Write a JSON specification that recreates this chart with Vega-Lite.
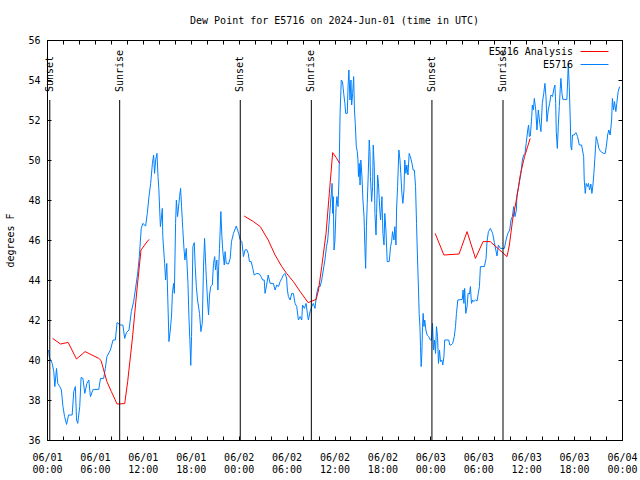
{
  "$schema": "https://vega.github.io/schema/vega-lite/v6.json",
  "width": 575,
  "height": 400,
  "autosize": {"type": "none"},
  "padding": {"left": 47, "top": 40, "right": 18, "bottom": 40},
  "background": "white",
  "title": {"text": "Dew Point for E5716 on 2024-Jun-01 (time in UTC)", "font": "DejaVu Sans Mono", "fontSize": 10, "fontWeight": "normal", "baseline": "alphabetic", "frame": "group", "offset": 1, "color": "black"},
  "config": {
    "font": "DejaVu Sans Mono",
    "view": {"stroke": "black"},
    "axis": {"domainColor": "black", "tickColor": "black", "labelColor": "black", "labelFont": "DejaVu Sans Mono", "labelFontSize": 10, "grid": false, "titleFont": "DejaVu Sans Mono", "titleFontSize": 10, "titleFontWeight": "normal", "titleColor": "black"},
    "legend": {"labelFont": "DejaVu Sans Mono", "labelFontSize": 10, "labelColor": "black"}
  },
  "datasets": {
    "obs": [
      {"h":0.2,"v":40.5},{"h":0.3,"v":40.13},{"h":0.65,"v":39.83},{"h":0.85,"v":39.42},{"h":0.98,"v":38.67},{"h":1.19,"v":39.58},{"h":1.35,"v":38.83},{"h":1.6,"v":38.67},{"h":1.8,"v":38.5},{"h":2.0,"v":37.67},{"h":2.2,"v":37.17},{"h":2.45,"v":36.78},{"h":2.7,"v":37.25},{"h":3.15,"v":37.25},{"h":3.35,"v":38.42},{"h":3.55,"v":38.67},{"h":3.7,"v":37.0},{"h":3.85,"v":36.83},{"h":4.1,"v":37.67},{"h":4.27,"v":39.13},{"h":4.5,"v":39.08},{"h":4.73,"v":38.33},{"h":5.0,"v":38.83},{"h":5.23,"v":39.0},{"h":5.44,"v":38.17},{"h":5.77,"v":38.53},{"h":6.48,"v":38.53},{"h":6.7,"v":39.08},{"h":7.1,"v":39.08},{"h":7.3,"v":39.58},{"h":7.5,"v":40.17},{"h":7.94,"v":40.5},{"h":8.27,"v":41.0},{"h":8.56,"v":41.0},{"h":8.77,"v":41.87},{"h":9.2,"v":41.75},{"h":9.5,"v":41.75},{"h":9.73,"v":41.08},{"h":9.94,"v":41.37},{"h":10.27,"v":41.5},{"h":10.56,"v":42.42},{"h":10.85,"v":42.92},{"h":11.06,"v":43.5},{"h":11.35,"v":44.33},{"h":11.56,"v":45.17},{"h":11.7,"v":46.0},{"h":11.8,"v":46.58},{"h":12.0,"v":46.83},{"h":12.35,"v":46.7},{"h":12.56,"v":47.33},{"h":12.77,"v":48.17},{"h":12.98,"v":48.83},{"h":13.2,"v":49.83},{"h":13.35,"v":50.25},{"h":13.47,"v":49.33},{"h":13.6,"v":50.0},{"h":13.77,"v":50.33},{"h":13.9,"v":49.17},{"h":14.0,"v":48.58},{"h":14.2,"v":46.67},{"h":14.3,"v":47.0},{"h":14.44,"v":47.58},{"h":14.5,"v":46.17},{"h":14.73,"v":44.83},{"h":14.85,"v":44.0},{"h":15.0,"v":44.83},{"h":15.2,"v":42.0},{"h":15.27,"v":40.92},{"h":15.44,"v":41.5},{"h":15.6,"v":42.25},{"h":15.7,"v":43.33},{"h":15.85,"v":43.83},{"h":15.95,"v":43.33},{"h":16.1,"v":46.83},{"h":16.2,"v":48.0},{"h":16.35,"v":47.17},{"h":16.5,"v":47.75},{"h":16.6,"v":48.17},{"h":16.73,"v":48.58},{"h":16.85,"v":47.67},{"h":17.0,"v":46.58},{"h":17.15,"v":45.58},{"h":17.27,"v":45.0},{"h":17.44,"v":45.58},{"h":17.65,"v":43.83},{"h":17.77,"v":42.17},{"h":17.94,"v":40.5},{"h":18.0,"v":39.73},{"h":18.1,"v":41.17},{"h":18.2,"v":44.0},{"h":18.27,"v":45.67},{"h":18.44,"v":45.87},{"h":18.56,"v":44.67},{"h":18.7,"v":43.67},{"h":18.85,"v":43.0},{"h":19.1,"v":42.33},{"h":19.27,"v":41.42},{"h":19.44,"v":41.83},{"h":19.6,"v":44.67},{"h":19.73,"v":46.08},{"h":19.94,"v":44.17},{"h":20.1,"v":43.0},{"h":20.23,"v":42.25},{"h":20.35,"v":43.25},{"h":20.5,"v":43.67},{"h":20.7,"v":43.75},{"h":20.85,"v":44.83},{"h":21.0,"v":45.17},{"h":21.1,"v":44.5},{"h":21.27,"v":45.0},{"h":21.4,"v":43.5},{"h":21.5,"v":44.67},{"h":21.6,"v":45.58},{"h":21.77,"v":47.42},{"h":21.9,"v":46.17},{"h":22.02,"v":45.42},{"h":22.2,"v":44.75},{"h":22.3,"v":45.42},{"h":22.44,"v":44.83},{"h":22.73,"v":44.8},{"h":22.94,"v":45.08},{"h":23.1,"v":45.92},{"h":23.35,"v":46.33},{"h":23.7,"v":46.7},{"h":24.0,"v":46.33},{"h":24.2,"v":46.0},{"h":24.4,"v":45.92},{"h":24.6,"v":45.17},{"h":24.8,"v":45.5},{"h":25.0,"v":45.53},{"h":25.2,"v":45.33},{"h":25.35,"v":44.92},{"h":25.56,"v":44.92},{"h":25.77,"v":44.58},{"h":25.94,"v":44.25},{"h":26.27,"v":44.33},{"h":26.6,"v":44.3},{"h":26.8,"v":44.17},{"h":27.0,"v":44.0},{"h":27.2,"v":44.0},{"h":27.3,"v":43.33},{"h":27.5,"v":43.75},{"h":27.7,"v":44.25},{"h":27.94,"v":43.83},{"h":28.35,"v":43.83},{"h":28.56,"v":43.5},{"h":28.77,"v":43.75},{"h":28.98,"v":43.67},{"h":29.2,"v":43.92},{"h":29.4,"v":44.08},{"h":29.6,"v":44.25},{"h":29.8,"v":44.33},{"h":30.0,"v":44.1},{"h":30.1,"v":43.5},{"h":30.23,"v":43.17},{"h":30.44,"v":43.0},{"h":30.65,"v":43.33},{"h":30.85,"v":43.33},{"h":31.06,"v":42.83},{"h":31.27,"v":42.67},{"h":31.48,"v":42.0},{"h":31.7,"v":42.17},{"h":31.9,"v":42.0},{"h":32.0,"v":42.75},{"h":32.23,"v":42.58},{"h":32.44,"v":42.83},{"h":32.6,"v":42.33},{"h":32.73,"v":42.0},{"h":32.94,"v":42.42},{"h":33.15,"v":42.67},{"h":33.35,"v":42.83},{"h":33.56,"v":42.58},{"h":33.77,"v":43.33},{"h":33.98,"v":43.67},{"h":34.2,"v":43.67},{"h":34.4,"v":44.0},{"h":34.6,"v":44.5},{"h":34.8,"v":45.0},{"h":35.0,"v":45.67},{"h":35.15,"v":46.0},{"h":35.35,"v":47.0},{"h":35.5,"v":47.83},{"h":35.7,"v":48.83},{"h":35.77,"v":47.33},{"h":35.85,"v":48.17},{"h":35.94,"v":45.5},{"h":36.05,"v":45.92},{"h":36.2,"v":47.67},{"h":36.3,"v":48.17},{"h":36.44,"v":47.67},{"h":36.56,"v":49.0},{"h":36.7,"v":52.33},{"h":36.85,"v":54.0},{"h":37.0,"v":53.92},{"h":37.15,"v":53.33},{"h":37.3,"v":52.83},{"h":37.4,"v":52.33},{"h":37.6,"v":52.33},{"h":37.7,"v":53.67},{"h":37.8,"v":54.5},{"h":37.94,"v":53.0},{"h":38.06,"v":54.0},{"h":38.15,"v":52.75},{"h":38.27,"v":53.33},{"h":38.4,"v":54.17},{"h":38.5,"v":52.5},{"h":38.6,"v":51.83},{"h":38.73,"v":50.67},{"h":38.85,"v":50.42},{"h":38.94,"v":50.0},{"h":39.0,"v":49.17},{"h":39.1,"v":49.83},{"h":39.2,"v":48.75},{"h":39.3,"v":50.0},{"h":39.44,"v":49.17},{"h":39.56,"v":48.0},{"h":39.7,"v":47.17},{"h":39.8,"v":45.67},{"h":39.9,"v":44.58},{"h":40.0,"v":46.67},{"h":40.1,"v":47.83},{"h":40.23,"v":49.33},{"h":40.35,"v":51.0},{"h":40.44,"v":50.42},{"h":40.5,"v":49.17},{"h":40.65,"v":47.92},{"h":40.77,"v":48.67},{"h":40.85,"v":50.75},{"h":40.98,"v":49.67},{"h":41.06,"v":47.33},{"h":41.2,"v":46.25},{"h":41.27,"v":47.33},{"h":41.4,"v":49.25},{"h":41.5,"v":48.83},{"h":41.65,"v":47.67},{"h":41.77,"v":47.0},{"h":41.94,"v":48.17},{"h":42.06,"v":46.33},{"h":42.2,"v":45.75},{"h":42.3,"v":47.33},{"h":42.44,"v":46.5},{"h":42.6,"v":44.92},{"h":42.85,"v":44.92},{"h":43.02,"v":45.67},{"h":43.15,"v":45.92},{"h":43.27,"v":46.42},{"h":43.44,"v":46.0},{"h":43.56,"v":46.67},{"h":43.7,"v":45.75},{"h":43.77,"v":47.5},{"h":43.9,"v":48.67},{"h":44.06,"v":50.5},{"h":44.2,"v":50.0},{"h":44.3,"v":49.33},{"h":44.44,"v":48.33},{"h":44.56,"v":47.83},{"h":44.7,"v":48.5},{"h":44.8,"v":50.0},{"h":44.94,"v":49.33},{"h":45.06,"v":49.75},{"h":45.2,"v":49.25},{"h":45.35,"v":50.33},{"h":45.5,"v":50.17},{"h":45.7,"v":49.83},{"h":45.85,"v":49.5},{"h":46.0,"v":49.5},{"h":46.15,"v":48.67},{"h":46.27,"v":46.83},{"h":46.4,"v":45.0},{"h":46.52,"v":43.5},{"h":46.6,"v":42.33},{"h":46.7,"v":41.67},{"h":46.77,"v":40.67},{"h":46.85,"v":39.67},{"h":46.94,"v":40.33},{"h":47.02,"v":41.67},{"h":47.1,"v":42.33},{"h":47.2,"v":41.67},{"h":47.3,"v":42.0},{"h":47.44,"v":41.5},{"h":47.6,"v":41.25},{"h":47.8,"v":41.17},{"h":48.0,"v":41.0},{"h":48.15,"v":41.0},{"h":48.27,"v":41.83},{"h":48.4,"v":40.5},{"h":48.52,"v":41.0},{"h":48.65,"v":40.33},{"h":48.77,"v":41.67},{"h":48.9,"v":41.17},{"h":49.02,"v":39.83},{"h":49.15,"v":40.5},{"h":49.27,"v":39.92},{"h":49.44,"v":40.0},{"h":49.56,"v":39.75},{"h":49.7,"v":40.17},{"h":49.8,"v":41.0},{"h":50.3,"v":41.0},{"h":50.44,"v":40.75},{"h":50.6,"v":40.75},{"h":50.8,"v":40.83},{"h":51.0,"v":41.17},{"h":51.15,"v":41.67},{"h":51.27,"v":42.33},{"h":51.44,"v":43.0},{"h":52.0,"v":43.03},{"h":52.1,"v":43.5},{"h":52.2,"v":42.83},{"h":52.3,"v":43.58},{"h":52.44,"v":42.33},{"h":52.6,"v":42.67},{"h":52.73,"v":43.33},{"h":52.9,"v":43.3},{"h":53.02,"v":43.67},{"h":53.15,"v":42.83},{"h":53.3,"v":43.0},{"h":53.44,"v":42.92},{"h":53.65,"v":43.0},{"h":53.85,"v":42.95},{"h":54.0,"v":43.33},{"h":54.15,"v":43.67},{"h":54.27,"v":44.67},{"h":54.77,"v":44.67},{"h":54.98,"v":45.08},{"h":55.1,"v":45.92},{"h":55.27,"v":46.42},{"h":55.52,"v":46.58},{"h":55.8,"v":46.33},{"h":56.02,"v":45.87},{"h":56.2,"v":45.5},{"h":56.35,"v":45.2},{"h":56.52,"v":45.75},{"h":56.77,"v":45.58},{"h":57.27,"v":45.58},{"h":57.48,"v":46.0},{"h":57.7,"v":46.33},{"h":57.94,"v":46.5},{"h":58.1,"v":47.0},{"h":58.27,"v":47.17},{"h":58.44,"v":47.67},{"h":58.6,"v":47.17},{"h":58.77,"v":47.5},{"h":58.85,"v":48.25},{"h":59.02,"v":48.58},{"h":59.2,"v":49.0},{"h":59.35,"v":49.33},{"h":59.52,"v":50.0},{"h":59.7,"v":50.25},{"h":59.85,"v":50.33},{"h":60.0,"v":50.83},{"h":60.2,"v":51.5},{"h":60.3,"v":51.75},{"h":60.4,"v":51.17},{"h":60.52,"v":51.2},{"h":60.7,"v":52.17},{"h":60.77,"v":52.75},{"h":60.9,"v":52.5},{"h":61.02,"v":53.08},{"h":61.2,"v":52.5},{"h":61.35,"v":51.5},{"h":61.52,"v":52.5},{"h":61.7,"v":51.83},{"h":61.85,"v":51.42},{"h":62.02,"v":52.83},{"h":62.2,"v":53.33},{"h":62.35,"v":53.83},{"h":62.48,"v":53.17},{"h":62.6,"v":51.92},{"h":62.77,"v":52.5},{"h":62.94,"v":52.83},{"h":63.1,"v":53.25},{"h":63.3,"v":53.17},{"h":63.44,"v":53.5},{"h":63.6,"v":53.75},{"h":63.7,"v":52.83},{"h":63.77,"v":51.42},{"h":63.9,"v":50.58},{"h":64.02,"v":51.67},{"h":64.15,"v":52.67},{"h":64.27,"v":53.58},{"h":64.35,"v":54.08},{"h":64.48,"v":53.33},{"h":64.6,"v":53.03},{"h":65.1,"v":53.03},{"h":65.2,"v":54.0},{"h":65.27,"v":54.83},{"h":65.4,"v":53.67},{"h":65.52,"v":52.0},{"h":65.6,"v":50.67},{"h":65.7,"v":50.5},{"h":65.8,"v":51.25},{"h":66.0,"v":51.25},{"h":66.23,"v":51.37},{"h":66.44,"v":51.17},{"h":66.65,"v":50.75},{"h":66.94,"v":50.75},{"h":67.2,"v":50.17},{"h":67.27,"v":49.0},{"h":67.4,"v":48.33},{"h":67.52,"v":48.83},{"h":67.7,"v":48.67},{"h":67.8,"v":48.83},{"h":67.94,"v":48.5},{"h":68.1,"v":48.8},{"h":68.23,"v":48.33},{"h":68.35,"v":48.7},{"h":68.48,"v":49.33},{"h":68.6,"v":50.08},{"h":68.77,"v":51.17},{"h":68.94,"v":50.92},{"h":69.1,"v":50.58},{"h":69.35,"v":50.42},{"h":69.7,"v":50.33},{"h":69.9,"v":50.33},{"h":70.06,"v":50.75},{"h":70.2,"v":51.25},{"h":70.35,"v":51.5},{"h":70.52,"v":51.25},{"h":70.7,"v":52.0},{"h":70.8,"v":53.08},{"h":70.94,"v":52.5},{"h":71.06,"v":52.92},{"h":71.23,"v":52.42},{"h":71.35,"v":52.83},{"h":71.52,"v":53.42},{"h":71.7,"v":53.67}
    ],
    "ana": [
      {"seg":1,"h":0.7,"v":41.08},{"seg":1,"h":1.7,"v":40.8},{"seg":1,"h":2.65,"v":40.88},{"seg":1,"h":3.69,"v":40.05},{"seg":1,"h":4.77,"v":40.42},{"seg":1,"h":6.48,"v":40.08},{"seg":1,"h":6.77,"v":39.97},{"seg":1,"h":7.5,"v":38.92},{"seg":1,"h":8.06,"v":38.42},{"seg":1,"h":8.77,"v":37.8},{"seg":1,"h":9.73,"v":37.82},{"seg":1,"h":10.1,"v":38.92},{"seg":1,"h":10.7,"v":41.1},{"seg":1,"h":11.27,"v":43.55},{"seg":1,"h":11.77,"v":45.5},{"seg":1,"h":12.6,"v":45.95},{"seg":1,"h":12.8,"v":46.03},
      {"seg":2,"h":24.69,"v":47.2},{"seg":2,"h":25.85,"v":46.92},{"seg":2,"h":26.7,"v":46.67},{"seg":2,"h":27.7,"v":46.0},{"seg":2,"h":28.56,"v":45.25},{"seg":2,"h":29.4,"v":44.67},{"seg":2,"h":30.0,"v":44.33},{"seg":2,"h":30.85,"v":43.92},{"seg":2,"h":31.7,"v":43.42},{"seg":2,"h":32.7,"v":42.87},{"seg":2,"h":33.7,"v":43.03},{"seg":2,"h":34.0,"v":43.5},{"seg":2,"h":34.4,"v":44.67},{"seg":2,"h":34.94,"v":46.33},{"seg":2,"h":35.35,"v":48.33},{"seg":2,"h":35.77,"v":50.37},{"seg":2,"h":36.2,"v":50.13},{"seg":2,"h":36.65,"v":49.83},
      {"seg":3,"h":48.6,"v":46.33},{"seg":3,"h":49.7,"v":45.25},{"seg":3,"h":51.6,"v":45.3},{"seg":3,"h":52.6,"v":46.42},{"seg":3,"h":53.65,"v":45.08},{"seg":3,"h":54.6,"v":45.92},{"seg":3,"h":55.5,"v":45.92},{"seg":3,"h":56.6,"v":45.53},{"seg":3,"h":57.6,"v":45.17},{"seg":3,"h":57.9,"v":45.75},{"seg":3,"h":58.3,"v":47.0},{"seg":3,"h":58.85,"v":48.17},{"seg":3,"h":59.3,"v":49.33},{"seg":3,"h":59.8,"v":50.17},{"seg":3,"h":60.5,"v":51.08}
    ],
    "sun": [
      {"h":0.35,"label":"Sunset"},{"h":9.1,"label":"Sunrise"},{"h":24.2,"label":"Sunset"},{"h":33.1,"label":"Sunrise"},{"h":48.2,"label":"Sunset"},{"h":57.1,"label":"Sunrise"}
    ]
  },
  "resolve": {"axis": {"x": "independent", "y": "independent"}},
  "layer": [
    {
      "data": {"name": "obs"},
      "mark": {"type": "line", "strokeWidth": 1, "interpolate": "linear"},
      "encoding": {
        "x": {"field": "h", "type": "quantitative", "scale": {"domain": [0, 72], "nice": false, "zero": false},
              "axis": {"title": null, "values": [0,2,4,6,8,10,12,14,16,18,20,22,24,26,28,30,32,34,36,38,40,42,44,46,48,50,52,54,56,58,60,62,64,66,68,70,72],
                       "tickSize": -4, "labelPadding": 16, "labelOverlap": false, "labelFlush": false, "labelLineHeight": 12,
                       "labelExpr": "datum.value % 6 == 0 ? ['06/0' + (1 + floor(datum.value / 24)), (datum.value % 24 < 10 ? '0' : '') + (datum.value % 24) + ':00'] : ''"}},
        "y": {"field": "v", "type": "quantitative", "scale": {"domain": [36, 56], "nice": false, "zero": false},
              "axis": {"title": "degrees F", "values": [36,38,40,42,44,46,48,50,52,54,56], "tickSize": -4, "labelPadding": 11, "titlePadding": 12}},
        "color": {"datum": "E5716", "type": "nominal",
                  "scale": {"domain": ["E5716 Analysis", "E5716"], "range": ["#ff0000", "#0080ff"]},
                  "legend": {"title": null, "orient": "none", "legendX": 541, "legendY": 5, "padding": 0,
                             "symbolType": "M-2.33,0H2.33", "symbolSize": 144, "symbolStrokeWidth": 1,
                             "labelAlign": "right", "labelOffset": -28, "rowPadding": 1}}
      }
    },
    {
      "data": {"name": "ana"},
      "mark": {"type": "line", "strokeWidth": 1},
      "encoding": {
        "x": {"field": "h", "type": "quantitative", "axis": null},
        "y": {"field": "v", "type": "quantitative", "axis": null},
        "detail": {"field": "seg", "type": "nominal"},
        "color": {"datum": "E5716 Analysis", "type": "nominal"}
      }
    },
    {
      "data": {"name": "sun"},
      "mark": {"type": "rule", "color": "black", "strokeWidth": 1},
      "encoding": {
        "x": {"field": "h", "type": "quantitative",
              "axis": {"orient": "top", "title": null, "labels": false, "tickSize": -4, "values": [0,2,4,6,8,10,12,14,16,18,20,22,24,26,28,30,32,34,36,38,40,42,44,46,48,50,52,54,56,58,60,62,64,66,68,70,72]}},
        "y": {"datum": 53, "type": "quantitative",
              "axis": {"orient": "right", "title": null, "labels": false, "tickSize": -4, "values": [36,38,40,42,44,46,48,50,52,54,56]}},
        "y2": {"datum": 36}
      }
    },
    {
      "data": {"name": "sun"},
      "mark": {"type": "text", "angle": 270, "align": "left", "baseline": "middle", "fontSize": 10, "font": "DejaVu Sans Mono", "color": "black"},
      "encoding": {
        "x": {"field": "h", "type": "quantitative", "axis": null},
        "y": {"datum": 53.4, "type": "quantitative", "axis": null},
        "text": {"field": "label"}
      }
    }
  ]
}
